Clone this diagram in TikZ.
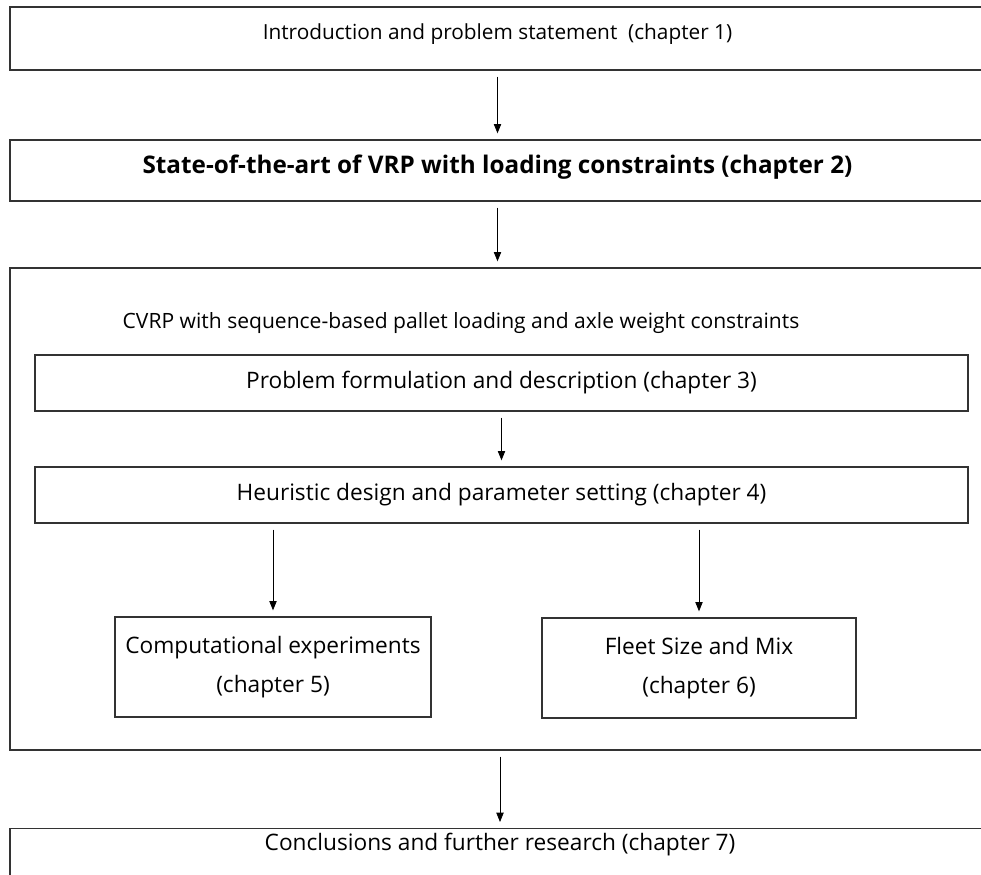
\documentclass[tikz,border=0pt]{standalone}
\usepackage{fontspec}
\setmainfont{Open Sans}
\usetikzlibrary{arrows.meta}

\begin{document}
\begin{tikzpicture}[
  x=0.75pt, y=-0.75pt,
  every node/.style={font=\fontsize{17}{20}\selectfont},
  box/.style={rectangle, draw=black!80, line width=1pt, align=center,
    font=\fontsize{17}{29}\selectfont},
  arr/.style={-{Triangle[length=7pt,width=5.5pt]}, line width=0.6pt,
    shorten <=4.5pt, shorten >=4.5pt}]

  \useasboundingbox (0,0) rectangle (981,874);

  \node[box, minimum width=731.25pt, minimum height=47.25pt, text depth=10pt,
    font=\fontsize{15.6}{20}\selectfont](intro) at (497.5,38.5)
    {Introduction and problem statement\ \ (chapter 1)};
  \node[box, minimum width=731.25pt, minimum height=45.75pt, text depth=9pt,
    font=\fontsize{18.2}{20}\bfseries](stateart) at (497.5,170.5)
    {State-of-the-art of VRP with loading constraints (chapter 2)};

  % big frame around chapters 3 to 6
  \node[box, minimum width=735pt, minimum height=361.5pt](cvrp) at (500,509) {};
  \node[font=\fontsize{15.8}{20}\selectfont](cvrptitle) at (461,323)
    {CVRP with sequence-based pallet loading and axle weight constraints};
  \node[box, minimum width=699.75pt, minimum height=42pt](formulation) at (501.5,383)
    {Problem formulation and description (chapter 3)};
  \node[box, minimum width=699.75pt, minimum height=42pt](heuristic) at (501.5,495)
    {Heuristic design and parameter setting (chapter 4)};
  \node[box, minimum width=237pt, minimum height=75pt](experiments) at (273,667)
    {Computational experiments\\(chapter 5)};
  \node[box, minimum width=235.5pt, minimum height=75pt](fleet) at (699,668)
    {Fleet Size and Mix\\(chapter 6)};

  \node[box, minimum width=735pt, anchor=north, inner ysep=3pt, text depth=50pt](conclusions) at (500,828)
    {Conclusions and further research (chapter 7)};

  \draw[arr] (intro) -- (stateart);
  \draw[arr] (stateart.south) -- (stateart.south |- cvrp.north);
  \draw[arr] (formulation) -- (heuristic);
  \draw[arr] (heuristic.south -| experiments) -- (experiments);
  \draw[arr] (heuristic.south -| fleet) -- (fleet);
  \draw[arr] (cvrp) -- (conclusions);
\end{tikzpicture}
\end{document}
